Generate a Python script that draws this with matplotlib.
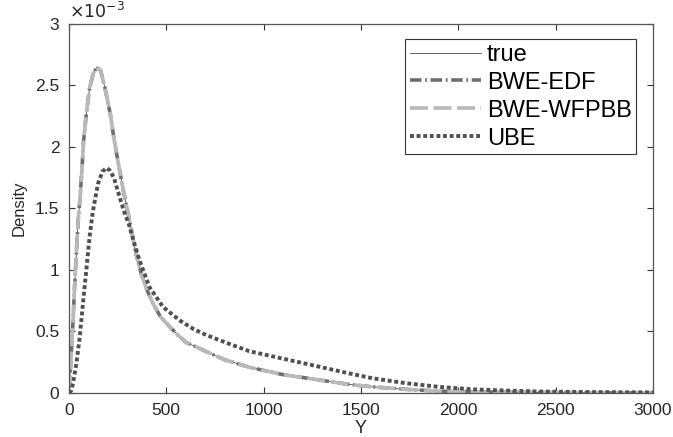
import numpy as np
import matplotlib
matplotlib.use("Agg")
import matplotlib.pyplot as plt
from matplotlib.ticker import FuncFormatter

plt.rcParams['font.family'] = ['Liberation Sans', 'DejaVu Sans']

# density values, in units of 1e-3
true_x = [0, 4, 12, 21, 29, 38, 47, 58, 67, 75, 89, 106, 125, 143, 163, 185,
          212, 233, 258, 280, 305, 320, 345, 371, 400, 431, 470, 517, 560,
          603, 660, 715, 800, 926, 1097, 1268, 1438, 1558, 1729, 1900, 2070,
          2300, 2600, 3000]
true_y = [0, 0.11, 0.32, 0.59, 0.87, 1.14, 1.40, 1.61, 1.83, 2.05, 2.27, 2.48,
          2.60, 2.65, 2.62, 2.48, 2.27, 2.05, 1.83, 1.64, 1.45, 1.33, 1.13,
          0.97, 0.84, 0.73, 0.62, 0.54, 0.47, 0.41, 0.37, 0.33, 0.27, 0.21,
          0.15, 0.11, 0.07, 0.05, 0.03, 0.015, 0.01, 0.005, 0.002, 0.0]

# both BWE estimates lie on top of the true density
bwe_edf_x = true_x
bwe_edf_y = true_y
bwe_wfpbb_x = true_x
bwe_wfpbb_y = true_y

ube_x = [0, 12, 21, 38, 55, 72, 89, 106, 123, 149, 172, 192, 210, 231, 257,
         282, 308, 335, 362, 414, 483, 569, 640, 707, 756, 840, 926, 1097,
         1268, 1438, 1558, 1729, 1900, 2070, 2241, 2412, 2700, 3000]
ube_y = [0, 0.02, 0.08, 0.24, 0.45, 0.73, 1.0, 1.27, 1.48, 1.70, 1.80, 1.83,
         1.81, 1.75, 1.61, 1.48, 1.37, 1.22, 1.08, 0.86, 0.70, 0.59, 0.52,
         0.47, 0.44, 0.39, 0.34, 0.28, 0.22, 0.16, 0.12, 0.08, 0.05, 0.03,
         0.02, 0.012, 0.007, 0.005]

labels = ['true', 'BWE-EDF', 'BWE-WFPBB', 'UBE']

fig = plt.figure(figsize=(6.73, 4.37), dpi=100)
ax = fig.add_axes([0.1025, 0.1007, 0.8675, 0.8444])

scale = 1e-3
ax.plot(true_x, np.array(true_y) * scale, color='#4d4d4d', lw=0.6,
        label=labels[0])
ax.plot(bwe_edf_x, np.array(bwe_edf_y) * scale, color='#6e6e6e', lw=2.6,
        dashes=(3.2, 1.0, 0.5, 1.0), label=labels[1])
ax.plot(bwe_wfpbb_x, np.array(bwe_wfpbb_y) * scale, color='#b9b9b9', lw=2.6,
        dashes=(5.0, 1.5), label=labels[2])
ax.plot(ube_x, np.array(ube_y) * scale, color='#505050', lw=2.8,
        dashes=(1.0, 0.7), label=labels[3])

ax.set_xlim(0, 3000)
ax.set_ylim(0, 3e-3)
ax.set_xticks(np.arange(0, 3001, 500))
ax.set_yticks(np.arange(0, 3.01, 0.5) * scale)
ax.yaxis.set_major_formatter(FuncFormatter(lambda v, p: '%g' % round(v / scale, 3)))

for s in ax.spines.values():
    s.set_color('#555555')
    s.set_linewidth(0.9)
ax.tick_params(direction='in', length=4, width=0.8, color='#333333',
               top=True, right=True, labelsize=12.5, labelcolor='#262626',
               pad=7)

ax.set_xlabel('Y', fontsize=13, color='#262626', labelpad=2)
ax.set_ylabel('Density', fontsize=12, color='#262626', labelpad=6)
fig.text(0.103, 0.953, r'$\times10^{-3}$', fontsize=12.5, color='#262626',
         ha='left', va='bottom')

leg = ax.legend(loc='upper right', bbox_to_anchor=(0.972, 0.959),
                borderaxespad=0, fontsize=17, handlelength=3.0,
                handletextpad=0.25, labelspacing=0.25, borderpad=0.2,
                fancybox=False, framealpha=1)
leg.get_frame().set_edgecolor('#333333')
leg.get_frame().set_linewidth(0.8)

fig.savefig('out.png', dpi=100)
